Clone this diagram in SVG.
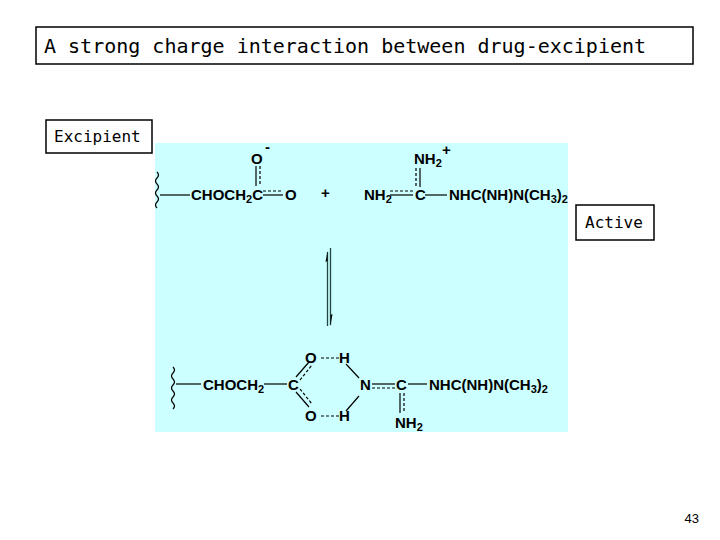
<svg xmlns="http://www.w3.org/2000/svg" width="720" height="540" viewBox="0 0 720 540">
<style>
.box{fill:#fff;stroke:#000;stroke-width:1.5}
.lbl{font-family:"DejaVu Sans Mono",monospace;font-size:16px}
.ch{font-family:"Liberation Sans",Arial,sans-serif;font-weight:bold;font-size:15px}
.sub{font-size:11px}
.b{stroke:#000;stroke-width:1.2;fill:none}
.d{stroke:#000;stroke-width:1.2;stroke-dasharray:3,2;fill:none}
</style>
<rect width="720" height="540" fill="#fff"/>
<g id="title"><rect class="box" x="36" y="27" width="657" height="37"/><text class="lbl" x="44" y="53" style="font-size:20px">A strong charge interaction between drug-excipient</text></g>
<g id="excipient"><rect class="box" x="46" y="120" width="106" height="33"/><text class="lbl" x="54" y="142">Excipient</text></g>
<rect x="155" y="143" width="413" height="289" fill="#ccffff"/>
<g id="active"><rect class="box" x="576" y="205" width="78" height="35"/><text class="lbl" x="585" y="228">Active</text></g>
<g id="top">
<path class="b" d="M157,172 q3,3 0,6 q-3,3 0,6 q3,3 0,6 q-3,3 0,6 q3,3 0,6 q-3,3 0,6"/>
<line class="b" x1="160" y1="195" x2="190" y2="195"/>
<text class="ch" x="191" y="200">CHOCH<tspan class="sub" dy="3">2</tspan><tspan dy="-3">C</tspan></text>
<text class="ch" x="251" y="164">O</text><text class="ch" x="265" y="152">-</text>
<line class="b" x1="256" y1="166" x2="256" y2="186"/><line class="d" x1="260" y1="166" x2="260" y2="186"/>
<line class="b" x1="263" y1="195" x2="283" y2="195"/><line class="d" x1="263" y1="191" x2="283" y2="191"/>
<text class="ch" x="285" y="200">O</text>
<text class="ch" x="321" y="198">+</text>
<text class="ch" x="364" y="200">NH<tspan class="sub" dy="3">2</tspan></text>
<line class="b" x1="390" y1="195" x2="413" y2="195"/><line class="d" x1="390" y1="191" x2="413" y2="191"/>
<text class="ch" x="415" y="200">C</text>
<line class="b" x1="425" y1="195" x2="447" y2="195"/>
<text class="ch" x="449" y="200">NHC(NH)N(CH<tspan class="sub" dy="3">3</tspan><tspan dy="-3">)</tspan><tspan class="sub" dy="3">2</tspan></text>
<text class="ch" x="414" y="164">NH<tspan class="sub" dy="3">2</tspan></text><text class="ch" x="442" y="155">+</text>
<line class="b" x1="420" y1="168" x2="420" y2="187"/><line class="d" x1="416" y1="168" x2="416" y2="187"/>
</g>
<g id="connectors">
<line x1="327.5" y1="252" x2="327.5" y2="326" stroke="#244" stroke-width="1.3"/>
<path d="M327.5,251 L325.5,262 L327.5,261 Z" fill="#000"/>
<line x1="330.5" y1="248" x2="330.5" y2="325" stroke="#244" stroke-width="1.3"/>
<path d="M330.5,326 L332.5,314 L330.5,315 Z" fill="#000"/>
</g>
<g id="bottom">
<path class="b" d="M173,367 q3,3 0,6 q-3,3 0,6 q3,3 0,6 q-3,3 0,6 q3,3 0,6 q-3,3 0,6 q3,3 0,6"/>
<line class="b" x1="176" y1="384" x2="201" y2="384"/>
<text class="ch" x="203" y="390">CHOCH<tspan class="sub" dy="3">2</tspan></text>
<line class="b" x1="264" y1="384" x2="287" y2="384"/>
<text class="ch" x="288" y="390">C</text>
<text class="ch" x="305" y="363">O</text><text class="ch" x="339" y="363">H</text>
<text class="ch" x="305" y="421">O</text><text class="ch" x="339" y="421">H</text>
<line class="d" x1="321" y1="358" x2="339" y2="358"/><line class="d" x1="321" y1="416" x2="339" y2="416"/>
<line class="b" x1="296" y1="377" x2="309" y2="362"/><line class="d" x1="300" y1="380" x2="312" y2="365"/>
<line class="b" x1="296" y1="392" x2="309" y2="407"/><line class="d" x1="300" y1="389" x2="312" y2="404"/>
<line class="b" x1="346" y1="364" x2="359" y2="378"/><line class="b" x1="346" y1="411" x2="359" y2="396"/>
<text class="ch" x="360" y="390">N</text>
<line class="b" x1="372" y1="384" x2="395" y2="384"/><line class="d" x1="372" y1="388" x2="395" y2="388"/>
<text class="ch" x="396" y="390">C</text>
<line class="b" x1="408" y1="384" x2="427" y2="384"/>
<text class="ch" x="429" y="390">NHC(NH)N(CH<tspan class="sub" dy="3">3</tspan><tspan dy="-3">)</tspan><tspan class="sub" dy="3">2</tspan></text>
<line class="b" x1="400" y1="393" x2="400" y2="413"/><line class="d" x1="404" y1="393" x2="404" y2="413"/>
<text class="ch" x="395" y="428">NH<tspan class="sub" dy="3">2</tspan></text>
</g>
<text x="699" y="523" text-anchor="end" font-family="Liberation Sans,Arial,sans-serif" font-size="13">43</text>
</svg>
